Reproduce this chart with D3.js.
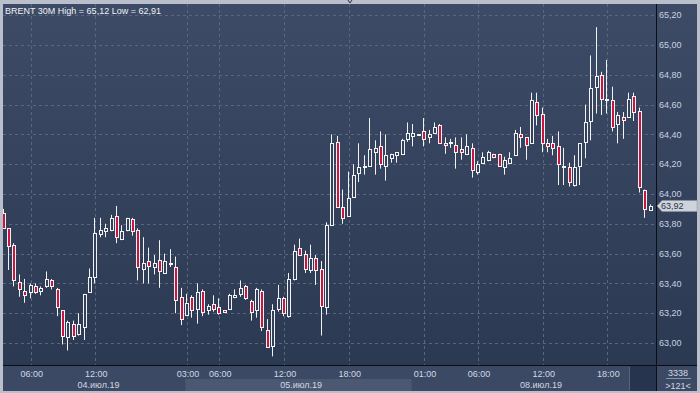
<!DOCTYPE html>
<html>
<head>
<meta charset="utf-8">
<script src="https://cdn.jsdelivr.net/npm/d3@7"></script>
<style>
  html, body { margin: 0; padding: 0; background: #b9c0cb; }
  svg { display: block; font-family: "Liberation Sans", Arial, sans-serif; }
</style>
</head>
<body>
<svg id="chart" width="700" height="393"></svg>
<script>
// BRENT 30M candles (121 bars)
const open = [
  63.87, 63.77, 63.66, 63.41, 63.35, 63.34, 63.38, 63.35, 63.38, 63.42,
  63.36, 63.22, 63.04, 63.13, 63.06, 63.11, 63.34, 63.44, 63.73, 63.75,
  63.76, 63.85, 63.70, 63.76, 63.83, 63.76, 63.50, 63.55, 63.51, 63.56,
  63.47, 63.54, 63.51, 63.31, 63.19, 63.31, 63.23, 63.35, 63.22, 63.26,
  63.24, 63.22, 63.23, 63.31, 63.33, 63.38, 63.28, 63.22, 63.35, 63.09,
  62.98, 63.23, 63.30, 63.18, 63.43, 63.64, 63.60, 63.49, 63.57, 63.50,
  63.24, 63.79, 64.35, 63.91, 63.85, 63.98, 64.14, 64.19, 64.19, 64.28,
  64.32, 64.19, 64.24, 64.26, 64.27, 64.37, 64.39, 64.40, 64.42, 64.38,
  64.41, 64.46, 64.34, 64.34, 64.33, 64.30, 64.27, 64.31, 64.15, 64.21,
  64.23, 64.27, 64.27, 64.18, 64.21, 64.26, 64.40, 64.38, 64.34, 64.62,
  64.54, 64.34, 64.34, 64.32, 64.19, 64.18, 64.06, 64.19, 64.35, 64.49,
  64.72, 64.80, 64.63, 64.63, 64.47, 64.52, 64.52, 64.66, 64.56, 64.03,
  63.89
];
const high = [
  63.90, 63.77, 63.67, 63.46, 63.43, 63.40, 63.40, 63.38, 63.48, 63.43,
  63.37, 63.22, 63.15, 63.15, 63.20, 63.33, 63.50, 63.84, 63.84, 63.80,
  63.86, 63.92, 63.79, 63.84, 63.84, 63.77, 63.71, 63.64, 63.59, 63.69,
  63.60, 63.63, 63.58, 63.37, 63.33, 63.32, 63.40, 63.36, 63.26, 63.32,
  63.30, 63.22, 63.33, 63.36, 63.42, 63.39, 63.29, 63.37, 63.36, 63.16,
  63.26, 63.39, 63.31, 63.47, 63.66, 63.70, 63.62, 63.66, 63.59, 63.55,
  63.81, 64.40, 64.39, 64.03, 64.15, 64.20, 64.34, 64.26, 64.51, 64.36,
  64.42, 64.40, 64.27, 64.28, 64.37, 64.48, 64.47, 64.40, 64.51, 64.43,
  64.48, 64.47, 64.38, 64.37, 64.38, 64.38, 64.40, 64.34, 64.22, 64.28,
  64.29, 64.27, 64.27, 64.25, 64.28, 64.43, 64.45, 64.38, 64.68, 64.68,
  64.58, 64.37, 64.39, 64.42, 64.31, 64.21, 64.26, 64.34, 64.60, 64.93,
  65.12, 64.82, 64.90, 64.72, 64.55, 64.55, 64.68, 64.68, 64.58, 64.03,
  63.93
];
const low = [
  63.77, 63.49, 63.38, 63.31, 63.27, 63.30, 63.33, 63.32, 63.37, 63.36,
  63.18, 62.99, 62.95, 63.02, 63.05, 63.02, 63.34, 63.40, 63.71, 63.71,
  63.75, 63.67, 63.69, 63.75, 63.72, 63.42, 63.40, 63.40, 63.46, 63.37,
  63.47, 63.51, 63.20, 63.12, 63.19, 63.17, 63.13, 63.18, 63.19, 63.21,
  63.19, 63.21, 63.23, 63.30, 63.31, 63.29, 63.15, 63.17, 63.08, 62.97,
  62.91, 63.21, 63.18, 63.17, 63.42, 63.59, 63.47, 63.47, 63.39, 63.05,
  63.19, 63.79, 63.91, 63.80, 63.85, 63.98, 64.08, 64.13, 64.19, 64.13,
  64.17, 64.09, 64.21, 64.21, 64.27, 64.35, 64.32, 64.40, 64.32, 64.34,
  64.41, 64.34, 64.27, 64.31, 64.17, 64.23, 64.27, 64.11, 64.13, 64.21,
  64.22, 64.24, 64.19, 64.13, 64.21, 64.26, 64.31, 64.23, 64.34, 64.46,
  64.28, 64.28, 64.26, 64.06, 64.06, 64.05, 64.05, 64.06, 64.24, 64.36,
  64.54, 64.53, 64.54, 64.42, 64.34, 64.37, 64.52, 64.49, 64.01, 63.84,
  63.89
];
const close = [
  63.77, 63.65, 63.42, 63.36, 63.32, 63.39, 63.34, 63.37, 63.43, 63.38,
  63.24, 63.05, 63.14, 63.05, 63.13, 63.33, 63.44, 63.74, 63.76, 63.77,
  63.84, 63.71, 63.75, 63.84, 63.75, 63.51, 63.54, 63.52, 63.54, 63.48,
  63.55, 63.53, 63.29, 63.16, 63.27, 63.22, 63.34, 63.21, 63.25, 63.23,
  63.20, 63.21, 63.32, 63.32, 63.37, 63.30, 63.21, 63.36, 63.11, 62.97,
  63.22, 63.30, 63.20, 63.43, 63.62, 63.59, 63.50, 63.57, 63.49, 63.25,
  63.79, 64.34, 63.91, 63.84, 63.97, 64.13, 64.18, 64.18, 64.30, 64.31,
  64.20, 64.26, 64.27, 64.28, 64.36, 64.41, 64.41, 64.40, 64.37, 64.40,
  64.45, 64.34, 64.33, 64.35, 64.28, 64.28, 64.32, 64.16, 64.20, 64.25,
  64.28, 64.25, 64.19, 64.23, 64.24, 64.41, 64.38, 64.33, 64.63, 64.53,
  64.34, 64.32, 64.31, 64.20, 64.19, 64.08, 64.18, 64.34, 64.48, 64.71,
  64.79, 64.64, 64.64, 64.45, 64.53, 64.50, 64.64, 64.55, 64.05, 63.90,
  63.92
];

const yTicks = [63.0, 63.2, 63.4, 63.6, 63.8, 64.0, 64.2, 64.4, 64.6, 64.8, 65.0, 65.2];

// bar index of each time label
const timeTickIdx = [5, 17, 34, 40, 52, 64, 78, 88, 100, 112];
const timeTickLabels = ["06:00", "12:00", "03:00", "06:00", "12:00", "18:00", "01:00", "06:00", "12:00", "18:00"];

const dateLabels = ["04.июл.19", "05.июл.19", "08.июл.19"];
const dateLabelIdx = [17.4, 55, 99.5];
const dayBreaks = [33.5, 75.5];   // between trading days

const barsTotal = 3338;

const svg = d3.select("#chart");
const W = 700, H = 393;
const pLeft = 3, pTop = 4, plotRight = 656, plotBottom = 365, pRight = 697, pBottom = 391;

const fmt = v => d3.format(".2f")(v).replace(".", ",");

const x = d3.scaleLinear().domain([0, open.length - 1]).range([4.7, 651.5]);
const y = d3.scaleLinear().domain([63, 65.2]).range([343, 15.2]);

const defs = svg.append("defs");
const grad = defs.append("linearGradient").attr("id", "bg").attr("x1", 0).attr("y1", 0).attr("x2", 0).attr("y2", 1);
grad.append("stop").attr("offset", "0%").attr("stop-color", "#3e4b66");
grad.append("stop").attr("offset", "100%").attr("stop-color", "#2c3953");
defs.append("clipPath").attr("id", "plotclip")
  .append("rect").attr("x", pLeft).attr("y", pTop).attr("width", plotRight - pLeft).attr("height", plotBottom - pTop);

// frame + panels
svg.append("rect").attr("width", W).attr("height", H).attr("fill", "#b9c0cb");
svg.append("rect").attr("x", pLeft).attr("y", pTop).attr("width", pRight - pLeft).attr("height", plotBottom - pTop)
  .attr("fill", "url(#bg)");
svg.append("rect").attr("x", pLeft).attr("y", plotBottom).attr("width", pRight - pLeft).attr("height", pBottom - plotBottom)
  .attr("fill", "#3c4964");

// day band in date row (alternating)
svg.append("rect")
  .attr("x", x(dayBreaks[0])).attr("y", 379)
  .attr("width", x(dayBreaks[1]) - x(dayBreaks[0])).attr("height", pBottom - 379)
  .attr("fill", "#4a5872");

// grid
const grid = svg.append("g").attr("stroke", "#58667f").attr("stroke-dasharray", "3,3").attr("stroke-width", 1);
grid.selectAll("line.h").data(yTicks).enter().append("line")
  .attr("x1", pLeft).attr("x2", plotRight)
  .attr("y1", d => Math.round(y(d)) + 0.5).attr("y2", d => Math.round(y(d)) + 0.5);
grid.selectAll("line.v").data(timeTickIdx).enter().append("line")
  .attr("y1", pTop).attr("y2", plotBottom)
  .attr("x1", d => Math.round(x(d)) - 0.5).attr("x2", d => Math.round(x(d)) - 0.5);

// candles
const bars = d3.range(open.length).map(i => ({i: i, o: open[i], h: high[i], l: low[i], c: close[i]}));
const cg = svg.append("g").attr("clip-path", "url(#plotclip)");
const candle = cg.selectAll("g").data(bars).enter().append("g");
candle.append("line")
  .attr("x1", d => Math.round(x(d.i)) - 1.5).attr("x2", d => Math.round(x(d.i)) - 1.5)
  .attr("y1", d => y(d.h)).attr("y2", d => y(d.l))
  .attr("stroke", "#f2f2f5").attr("stroke-width", 1);
candle.append("rect")
  .attr("x", d => Math.round(x(d.i)) - 2.5)
  .attr("width", 3)
  .attr("y", d => Math.round(y(Math.max(d.o, d.c))) + 0.5)
  .attr("height", d => Math.max(1, Math.round(y(Math.min(d.o, d.c))) - Math.round(y(Math.max(d.o, d.c)))))
  .attr("fill", d => d.c < d.o ? "#c8173f" : "#34415b")
  .attr("stroke", "#f2f2f5").attr("stroke-width", 1);

// axis lines
svg.append("line").attr("x1", pLeft).attr("x2", pRight).attr("y1", plotBottom + 0.5).attr("y2", plotBottom + 0.5)
  .attr("stroke", "#0c0e14");
svg.append("line").attr("x1", plotRight + 0.5).attr("x2", plotRight + 0.5).attr("y1", pTop).attr("y2", pBottom)
  .attr("stroke", "#0c0e14");

// right axis labels
svg.append("g").selectAll("text").data(yTicks).enter().append("text")
  .attr("x", 659).attr("y", d => y(d)).attr("dy", "0.35em")
  .attr("font-size", 9).attr("fill", "#c9d2e0")
  .text(d => fmt(d));

// last price marker
const last = close[close.length - 1];
const ly = y(last);
svg.append("path")
  .attr("d", `M${plotRight + 1},${ly} L${plotRight + 6},${ly - 5.5} L${pRight},${ly - 5.5} L${pRight},${ly + 5.5} L${plotRight + 6},${ly + 5.5} Z`)
  .attr("fill", "#cfd4dc").attr("stroke", "#8e98a8").attr("stroke-width", 0.5);
svg.append("text").attr("x", 661).attr("y", ly).attr("dy", "0.35em")
  .attr("font-size", 9).attr("fill", "#2a3344").text(fmt(last));

// time axis
svg.append("g").selectAll("text").data(timeTickIdx).enter().append("text")
  .attr("x", d => x(d)).attr("y", 376.5).attr("text-anchor", "middle")
  .attr("font-size", 9).attr("fill", "#d2d8e2")
  .text((d, k) => timeTickLabels[k]);
svg.append("g").selectAll("text").data(dateLabels).enter().append("text")
  .attr("x", (d, k) => x(dateLabelIdx[k])).attr("y", 388).attr("text-anchor", "middle")
  .attr("font-size", 9).attr("fill", "#d2d8e2")
  .text(d => d);

// scroll box + counter box
svg.append("rect").attr("x", 630).attr("y", plotBottom + 1).attr("width", plotRight - 630).attr("height", pBottom - plotBottom - 1)
  .attr("fill", "#27344d");
svg.append("line").attr("x1", 629.5).attr("x2", 629.5).attr("y1", plotBottom + 2).attr("y2", pBottom - 1)
  .attr("stroke", "#56637c");
svg.append("line").attr("x1", 666).attr("x2", 691).attr("y1", 378.5).attr("y2", 378.5).attr("stroke", "#8a96aa");
svg.append("text").attr("x", 678).attr("y", 376).attr("text-anchor", "middle")
  .attr("font-size", 9).attr("fill", "#d2d8e2").text(barsTotal);
svg.append("text").attr("x", 678).attr("y", 388.5).attr("text-anchor", "middle")
  .attr("font-size", 9).attr("fill", "#d2d8e2").text(">" + open.length + "<");

// title
svg.append("text").attr("x", 5).attr("y", 14).attr("font-size", 9).attr("fill", "#eef1f5")
  .text(`BRENT 30M High = ${fmt(d3.max(high))} Low = ${fmt(d3.min(low))}`);

// little handle at top
svg.append("path").attr("d", "M348,0 L350,3 L352,0").attr("fill", "none").attr("stroke", "#2a3040");
</script>
</body>
</html>
